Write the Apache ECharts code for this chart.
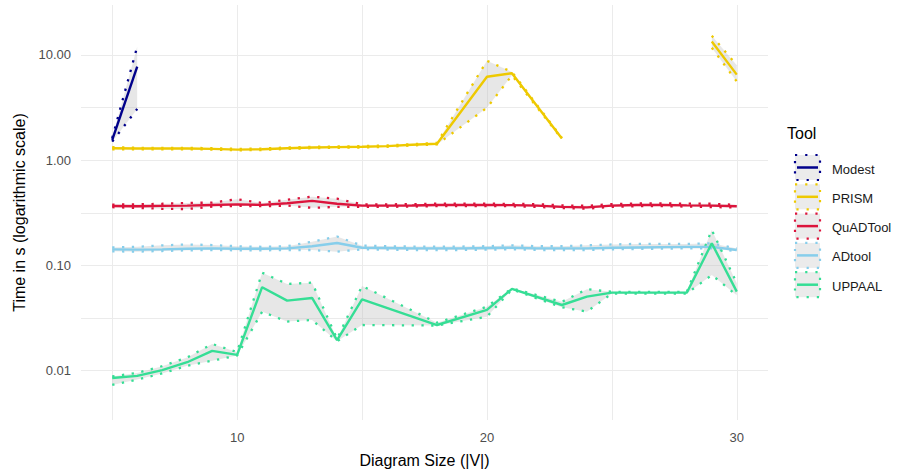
<!DOCTYPE html>
<html><head><meta charset="utf-8">
<script src="https://cdn.jsdelivr.net/npm/echarts@6/dist/echarts.min.js"></script>
<style>html,body{margin:0;padding:0;background:#fff}#c{width:906px;height:472px}</style>
</head><body><div id="c"></div>
<script>
// ---------- data (time in seconds) ----------
const tools = ['Modest', 'PRISM', 'QuADTool', 'ADtool', 'UPPAAL'];
const colors = ['#00008B', '#EEC900', '#DC143C', '#87CEEB', '#35DE95'];

const modestX    = [5, 6];
const modestMean = [1.56, 7.74];
const modestLow  = [1.50, 3.07];
const modestHigh = [1.62, 12.0];

// null = no measurement (gap in the line)
const prismX    = [5, 6, 7, 8, 9, 10, 11, 12, 13, 14, 15, 16, 17, 18, 20, 21, 23, 26, 29, 30];
const prismMean = [1.30, 1.29, 1.29, 1.29, 1.28, 1.26, 1.27, 1.30, 1.32, 1.33, 1.34, 1.36, 1.40, 1.43, 6.2, 6.7, 1.61, null, 13.4, 6.5];
const prismLow  = [1.27, 1.27, 1.27, 1.27, 1.26, 1.24, 1.25, 1.28, 1.30, 1.31, 1.32, 1.34, 1.38, 1.41, 3.15, 6.4, 1.59, null, 11.7, 5.6];
const prismHigh = [1.33, 1.31, 1.31, 1.31, 1.30, 1.28, 1.29, 1.32, 1.34, 1.35, 1.36, 1.38, 1.42, 1.46, 8.8, 6.9, 1.63, null, 15.2, 8.0];

const quadX    = [5, 6, 7, 8, 9, 10, 11, 12, 13, 14, 15, 16, 17, 18, 19, 20, 21, 22, 23, 24, 25, 26, 27, 28, 29, 30];
const quadMean = [0.367, 0.365, 0.368, 0.370, 0.375, 0.380, 0.376, 0.390, 0.410, 0.385, 0.370, 0.370, 0.371, 0.375, 0.375, 0.375, 0.374, 0.370, 0.360, 0.356, 0.370, 0.375, 0.375, 0.372, 0.370, 0.365];
const quadLow  = [0.357, 0.352, 0.345, 0.343, 0.362, 0.368, 0.365, 0.370, 0.352, 0.360, 0.360, 0.360, 0.362, 0.366, 0.366, 0.366, 0.365, 0.360, 0.350, 0.346, 0.360, 0.365, 0.366, 0.362, 0.358, 0.355];
const quadHigh = [0.378, 0.380, 0.385, 0.392, 0.395, 0.425, 0.392, 0.420, 0.450, 0.430, 0.380, 0.380, 0.382, 0.386, 0.386, 0.386, 0.384, 0.382, 0.372, 0.368, 0.382, 0.388, 0.388, 0.386, 0.385, 0.376];

const adX    = [5, 6, 7, 8, 9, 10, 11, 12, 13, 14, 15, 16, 17, 18, 19, 20, 21, 22, 23, 24, 25, 26, 27, 28, 29, 30];
const adMean = [0.142, 0.141, 0.142, 0.144, 0.145, 0.144, 0.144, 0.145, 0.152, 0.163, 0.147, 0.146, 0.145, 0.145, 0.145, 0.146, 0.147, 0.145, 0.145, 0.145, 0.147, 0.148, 0.149, 0.150, 0.150, 0.140];
const adLow  = [0.136, 0.135, 0.137, 0.139, 0.140, 0.139, 0.139, 0.140, 0.140, 0.135, 0.142, 0.141, 0.140, 0.140, 0.140, 0.141, 0.142, 0.140, 0.140, 0.140, 0.142, 0.143, 0.144, 0.145, 0.145, 0.136];
const adHigh = [0.148, 0.150, 0.155, 0.158, 0.156, 0.152, 0.150, 0.152, 0.168, 0.188, 0.154, 0.152, 0.151, 0.151, 0.151, 0.152, 0.155, 0.152, 0.152, 0.155, 0.158, 0.160, 0.160, 0.160, 0.162, 0.145];

const uppaalX    = [5, 6, 7, 8, 9, 10, 11, 12, 13, 14, 15, 18, 20, 21, 23, 24, 25, 26, 27, 28, 29, 30];
const uppaalMean = [0.0085, 0.0089, 0.0101, 0.0120, 0.0154, 0.0141, 0.062, 0.0462, 0.049, 0.0195, 0.0476, 0.0271, 0.0377, 0.0597, 0.042, 0.0504, 0.055, 0.055, 0.055, 0.055, 0.162, 0.0563];
const uppaalLow  = [0.0073, 0.0082, 0.0094, 0.0111, 0.0124, 0.0139, 0.0363, 0.0292, 0.0303, 0.0190, 0.0271, 0.0268, 0.0325, 0.059, 0.040, 0.0363, 0.054, 0.054, 0.054, 0.054, 0.081, 0.052];
const uppaalHigh = [0.0088, 0.0095, 0.0110, 0.0133, 0.0179, 0.0150, 0.0853, 0.0665, 0.0685, 0.0200, 0.0637, 0.0285, 0.0405, 0.0605, 0.045, 0.0593, 0.056, 0.056, 0.056, 0.056, 0.217, 0.0676];

const yTickValues = [0.01, 0.1, 1, 10];
const yTickLabels = ['0.01', '0.10', '1.00', '10.00'];
const xTickLabels = [10, 20, 30];

// ---------- build ----------
const groups = [
  { x: modestX, mean: modestMean, low: modestLow, high: modestHigh },
  { x: prismX,  mean: prismMean,  low: prismLow,  high: prismHigh },
  { x: quadX,   mean: quadMean,   low: quadLow,   high: quadHigh },
  { x: adX,     mean: adMean,     low: adLow,     high: adHigh },
  { x: uppaalX, mean: uppaalMean, low: uppaalLow, high: uppaalHigh }
];
const lg = v => (v == null ? '-' : Math.log10(v));
const pts = (xs, vs) => xs.map((x, i) => [x, lg(vs[i])]);
const FONT = '"Liberation Sans", Arial, sans-serif';
const ribbonFill = 'rgba(185,185,185,0.34)';

const series = [];
series.push({
  type: 'custom', z: 1, silent: true, clip: true,
  data: groups.map((g, i) => [i, 0]),
  renderItem(params, api) {
    const g = groups[params.dataIndex];
    const children = [];
    let seg = [];
    const flush = () => {
      if (seg.length > 1) {
        const up = seg.map(p => api.coord([p[0], Math.log10(p[2])]));
        const lo = seg.slice().reverse().map(p => api.coord([p[0], Math.log10(p[1])]));
        children.push({ type: 'polygon', shape: { points: up.concat(lo) }, style: { fill: ribbonFill } });
      }
      seg = [];
    };
    g.x.forEach((x, i) => { if (g.low[i] == null) flush(); else seg.push([x, g.low[i], g.high[i]]); });
    flush();
    return { type: 'group', children };
  }
});
groups.forEach((g, i) => {
  ['low', 'high'].forEach(k => {
    series.push({
      type: 'line', name: tools[i] + '-' + k, data: pts(g.x, g[k]), z: 2,
      showSymbol: false, symbol: 'none', silent: true,
      lineStyle: { color: colors[i], width: 2.3, type: [2.3, 7.5], cap: 'butt' }
    });
  });
  series.push({
    type: 'line', name: tools[i], data: pts(g.x, g.mean), z: 3,
    showSymbol: false, symbol: 'none', silent: true,
    lineStyle: { color: colors[i], width: 2.4 }
  });
});

// legend drawn as graphics (ribbon-style keys)
const graphic = [{
  type: 'text', x: 787, y: 133,
  style: { text: 'Tool', font: '16px ' + FONT, fill: '#000', verticalAlign: 'middle' }
}];
tools.forEach((t, i) => {
  const y0 = 154 + i * 29.3;
  graphic.push({ type: 'rect', shape: { x: 795, y: y0 + 1, width: 25, height: 25 },
    style: { fill: '#ebebeb', stroke: colors[i], lineWidth: 2.2, lineDash: [2.2, 8] } });
  graphic.push({ type: 'line', shape: { x1: 797, y1: y0 + 13.5, x2: 818, y2: y0 + 13.5 },
    style: { stroke: colors[i], lineWidth: 2.5 } });
  graphic.push({ type: 'text', x: 832, y: y0 + 15,
    style: { text: t, font: '13px ' + FONT, fill: '#1a1a1a', verticalAlign: 'middle' } });
});

const chart = echarts.init(document.getElementById('c'), null, { renderer: 'svg' });
chart.setOption({
  animation: false,
  backgroundColor: '#fff',
  grid: { left: 81, right: 138, top: 5, bottom: 52, containLabel: false, outerBoundsMode: 'none' },
  xAxis: {
    type: 'value', min: 3.75, max: 31.25, minInterval: 5, maxInterval: 5,
    name: 'Diagram Size (|V|)', nameLocation: 'middle', nameGap: 32,
    nameTextStyle: { fontFamily: FONT, fontSize: 16, color: '#000' },
    axisLine: { show: false }, axisTick: { show: false },
    axisLabel: { margin: 11, fontFamily: FONT, fontSize: 13, color: '#4d4d4d',
      showMinLabel: false, showMaxLabel: false,
      formatter: v => (xTickLabels.indexOf(Math.round(v)) >= 0 && Math.abs(v - Math.round(v)) < 1e-6 ? String(Math.round(v)) : '') },
    splitLine: { show: true, showMinLine: false, showMaxLine: false, lineStyle: { color: '#ebebeb', width: 1 } }
  },
  yAxis: {
    type: 'value', min: -2.47, max: 1.475, minInterval: 0.5, maxInterval: 0.5,
    name: 'Time in s (logarithmic scale)', nameLocation: 'middle', nameGap: 52,
    nameTextStyle: { fontFamily: FONT, fontSize: 16, color: '#000' },
    axisLine: { show: false }, axisTick: { show: false },
    axisLabel: { margin: 10, fontFamily: FONT, fontSize: 13, color: '#4d4d4d',
      showMinLabel: false, showMaxLabel: false,
      formatter: v => {
        const idx = yTickValues.findIndex(t => Math.abs(Math.log10(t) - v) < 1e-6);
        return idx >= 0 ? yTickLabels[idx] : '';
      } },
    splitLine: { show: true, showMinLine: false, showMaxLine: false, lineStyle: { color: '#ebebeb', width: 1 } }
  },
  graphic,
  series
});
</script></body></html>
